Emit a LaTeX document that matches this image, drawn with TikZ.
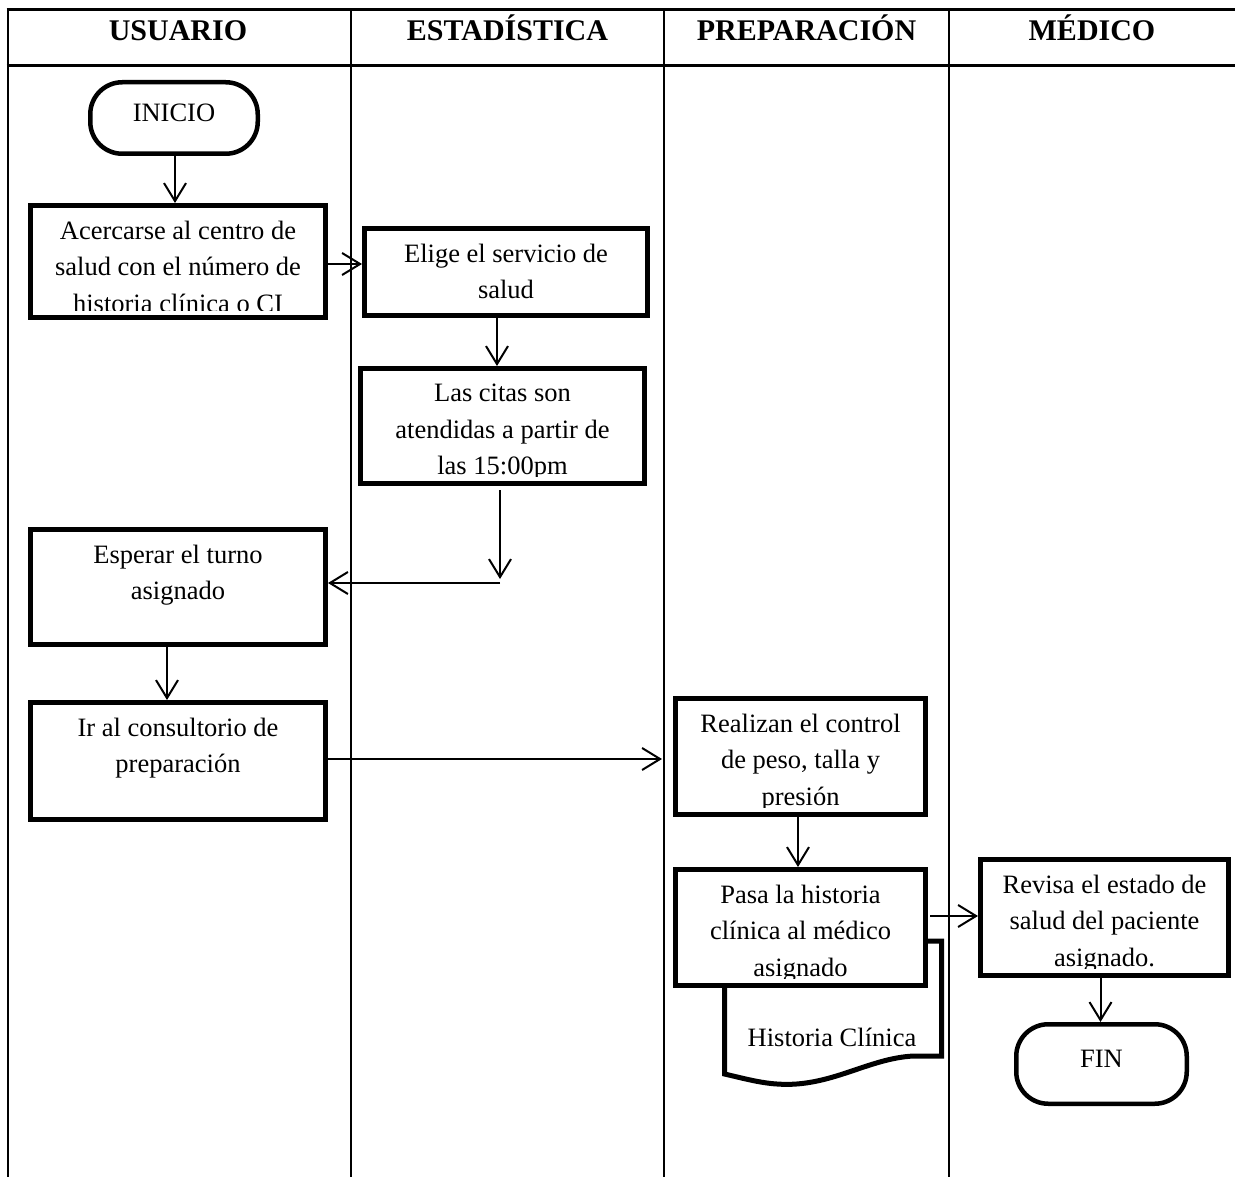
\documentclass[tikz,border=0pt]{standalone}
\usepackage{fontspec}
\setmainfont{Liberation Serif}
\usetikzlibrary{arrows.meta}

\newcommand\flowfont{\fontsize{26.5}{36.6}\selectfont}
\newcommand\lanefont{\fontsize{30}{36}\selectfont\bfseries}

\tikzset{
  frameline/.style={line width=3pt},
  laneline/.style={line width=2pt},
  lanehead/.style={font=\lanefont, inner sep=0pt, anchor=base},
  stepbox/.style={draw, line width=5pt, fill=white, inner sep=0pt},
  steptext/.style={align=center, inner sep=0pt, font=\flowfont, anchor=north},
  terminal/.style={draw, line width=4.5pt, fill=white, rounded corners=32pt,
    inner sep=0pt, font=\flowfont, text height=18pt, text depth=10.5pt},
  doc/.style={draw, line width=5pt, fill=white, line join=miter},
  flow/.style={line width=2pt, -{Straight Barb[length=18pt,width=22pt]}},
}

% a process box given by its outer edges; its text is cut off at the lower margin
\newcommand\flowstep[6]{%
  \node[stepbox, minimum width={#4-#2-5}, minimum height={#5-#3-5}]
    (#1) at ({(#2+#4)/2},{(#3+#5)/2}) {};
  \begin{scope}
    \clip ([xshift=2.5pt,yshift=-2.5pt]#1.north west)
      rectangle ([xshift=-2.5pt,yshift=9.5pt]#1.south east);
    \node[steptext] (#1-t) at ([yshift=-17.7pt]#1.north) {#6};
  \end{scope}}

\begin{document}
\begin{tikzpicture}[x=1pt,y=-1pt]
\useasboundingbox (0,0) rectangle (1235,1177);

% swimlane frame
\draw[frameline] (6.5,10) -- (1235,10);
\draw[frameline] (6.5,66) -- (1235,66);
\draw[line width=2.5pt] (8,8.5) -- (8,1177);
\foreach \x in {351,664,949}
  \draw[laneline] (\x,10) -- (\x,1177);

% lane titles
\node[lanehead] (lane-usuario) at (178,40.5) {USUARIO};
\node[lanehead] (lane-estadistica) at (507.5,40.5) {ESTADÍSTICA};
\node[lanehead] (lane-preparacion) at (806.5,40.5) {PREPARACIÓN};
\node[lanehead] (lane-medico) at (1092,40.5) {MÉDICO};

% start
\node[terminal, minimum width=167.5, minimum height=71.5] (inicio) at (174,118) {INICIO};

% USUARIO and ESTADÍSTICA
\flowstep{acercarse}{28}{203}{328}{320}{Acercarse al centro de\\salud con el número de\\historia clínica o CI}
\flowstep{elige}{362}{226}{650}{318}{Elige el servicio de\\salud}
\flowstep{citas}{358}{366}{647}{486}{Las citas son\\atendidas a partir de\\las 15:00pm}
\flowstep{esperar}{28}{527}{328}{647}{Esperar el turno\\asignado}
\flowstep{ir}{28}{700}{328}{822}{Ir al consultorio de\\preparación}

% PREPARACIÓN
\flowstep{control}{673}{696}{928}{817}{Realizan el control\\de peso, talla y\\presión}

% document lying behind the hand-over step
\draw[doc] (724.5,941) -- (941.5,941) -- (941.5,1056) -- (914,1056)
  .. controls (868,1058) and (830,1088) .. (777,1084)
  .. controls (760,1083) and (742,1078) .. (724.5,1074) -- cycle;
\node[font=\flowfont, inner sep=0pt] (historia) at (832,1037) {Historia Clínica};

\flowstep{pasa}{673}{867}{928}{988}{Pasa la historia\\clínica al médico\\asignado}

% MÉDICO
\flowstep{revisa}{978}{857}{1231}{978}{Revisa el estado de\\salud del paciente\\asignado.}
\node[terminal, minimum width=170.5, minimum height=79.5] (fin) at (1101.5,1064) {FIN};

% connectors
\coordinate (turn) at (500,583);
\draw[flow] ([xshift=1pt]inicio.south) -- ([xshift=1pt]inicio.south |- acercarse.north);
\draw[flow] ([yshift=-2.5pt]acercarse.east) -- ([yshift=-2.5pt]acercarse.east -| elige.west);
\draw[flow] ([xshift=-9pt]elige.south) -- ([xshift=-9pt]elige.south |- citas.north);
\draw[flow] ([xshift=-2.5pt,yshift=-4pt]citas.south) -- ([yshift=4pt]turn);
\draw[flow] (turn) -- (turn -| esperar.east);
\draw[flow] ([xshift=-11pt]esperar.south) -- ([xshift=-11pt]esperar.south |- ir.north);
\draw[flow] ([yshift=2pt]ir.east) -- ([yshift=2pt,xshift=-11pt]ir.east -| control.west);
\draw[flow] ([xshift=-2.5pt]control.south) -- ([xshift=-2.5pt]control.south |- pasa.north);
\draw[flow] ([xshift=2pt,yshift=11.5pt]pasa.east) -- ([yshift=11.5pt]pasa.east -| revisa.west);
\draw[flow] ([xshift=-4pt]revisa.south) -- ([xshift=-4pt]revisa.south |- fin.north);
\end{tikzpicture}
\end{document}
